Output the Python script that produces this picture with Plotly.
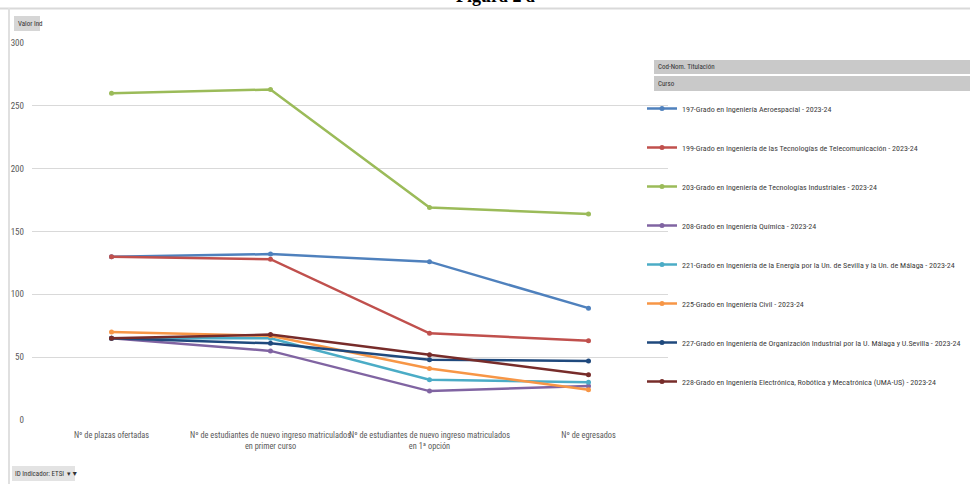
import plotly.graph_objects as go

categories = [
    "Nº de plazas ofertadas",
    "Nº de estudiantes de nuevo ingreso matriculados<br>en primer curso",
    "Nº de estudiantes de nuevo ingreso matriculados<br>en 1ª opción",
    "Nº de egresados",
]
series_names = [
    "197-Grado en Ingeniería Aeroespacial - 2023-24",
    "199-Grado en Ingeniería de las Tecnologías de Telecomunicación - 2023-24",
    "203-Grado en Ingeniería de Tecnologías Industriales - 2023-24",
    "208-Grado en Ingeniería Química - 2023-24",
    "221-Grado en Ingeniería de la Energía por la Un. de Sevilla y la Un. de Málaga - 2023-24",
    "225-Grado en Ingeniería Civil - 2023-24",
    "227-Grado en Ingeniería de Organización Industrial por la U. Málaga y U.Sevilla - 2023-24",
    "228-Grado en Ingeniería Electrónica, Robótica y Mecatrónica (UMA-US) - 2023-24",
]
aero = [130, 132, 126, 89]
teleco = [130, 128, 69, 63]
industriales = [260, 263, 169, 164]
quimica = [65, 55, 23, 27]
energia = [65, 65, 32, 30]
civil = [70, 67, 41, 24]
organizacion = [65, 61, 48, 47]
electronica = [65, 68, 52, 36]
series_values = [aero, teleco, industriales, quimica, energia, civil, organizacion, electronica]
colors = ["#4F81BD", "#C0504D", "#9BBB59", "#8064A2", "#4BACC6", "#F79646", "#1F497D", "#772C2A"]
y_ticks = [0, 50, 100, 150, 200, 250, 300]

FONT = "Roboto Condensed, Liberation Sans Narrow, sans-serif"

fig = go.Figure()
for i, (name, vals, col) in enumerate(zip(series_names, series_values, colors)):
    fig.add_trace(go.Scatter(
        x=list(range(len(categories))), y=vals, name=name, mode="lines+markers",
        line=dict(color=col, width=2.5), marker=dict(color=col, size=5, symbol="circle"),
        legendgroup=f"g{i}",
    ))

W, H = 970, 484
L, R, T, B = 32, 302, 43, 64
pw, ph = W - L - R, H - T - B

def px(xr):
    return (xr - L) / pw

def py(yr):
    return 1 - (yr - T) / ph

fig.update_layout(
    width=W, height=H,
    margin=dict(l=L, r=R, t=T, b=B, autoexpand=False),
    paper_bgcolor="white", plot_bgcolor="white",
    font=dict(family=FONT, size=9, color="#595959"),
    showlegend=True,
    legend=dict(
        x=px(642), y=py(94), xanchor="left", yanchor="top",
        font=dict(family=FONT, size=8, color="#404040"),
        tracegroupgap=20, itemwidth=30, bgcolor="rgba(0,0,0,0)",
    ),
    xaxis=dict(
        tickmode="array", tickvals=list(range(len(categories))), ticktext=categories,
        range=[-0.5, 3.5], showgrid=False, zeroline=False, showline=False, tickangle=0,
        tickfont=dict(family=FONT, size=8.3, color="#595959"), ticks="", ticklabelstandoff=9,
    ),
    yaxis=dict(
        range=[0, 300], tickvals=y_ticks, showgrid=True, gridcolor="#D9D9D9", gridwidth=1,
        zeroline=False, showline=False, ticks="", ticklabelstandoff=7,
        tickfont=dict(family=FONT, size=9, color="#595959"),
    ),
)

shapes = []
# chart frame lines
shapes.append(dict(type="line", xref="paper", yref="paper", x0=px(0), x1=px(980), y0=py(8.5), y1=py(8.5),
                   line=dict(color="#D9D9D9", width=2), layer="below"))
shapes.append(dict(type="line", xref="paper", yref="paper", x0=px(9), x1=px(9), y0=py(8), y1=py(490),
                   line=dict(color="#E0E0E0", width=2), layer="below"))
# buttons
shapes.append(dict(type="rect", xref="paper", yref="paper", x0=px(14), x1=px(40), y0=py(16), y1=py(31),
                   fillcolor="#D6D6D6", line=dict(width=0)))
shapes.append(dict(type="rect", xref="paper", yref="paper", x0=px(654), x1=px(972), y0=py(60), y1=py(74),
                   fillcolor="#C9C9C9", line=dict(width=0)))
shapes.append(dict(type="rect", xref="paper", yref="paper", x0=px(654), x1=px(972), y0=py(76), y1=py(91),
                   fillcolor="#C9C9C9", line=dict(width=0)))
shapes.append(dict(type="rect", xref="paper", yref="paper", x0=px(12), x1=px(75), y0=py(466), y1=py(481),
                   fillcolor="#E3E3E3", line=dict(width=0)))
fig.update_layout(shapes=shapes)

small = dict(family=FONT, size=7, color="#333333")
anns = [
    dict(text="<b>Figura 2 a</b>", x=px(496), y=py(8), xref="paper", yref="paper", showarrow=False,
         xanchor="center", yanchor="bottom", font=dict(family="Liberation Serif, Times New Roman, serif", size=18, color="black")),
    dict(text="Valor Ind", x=px(16), y=py(23.5), xref="paper", yref="paper", showarrow=False,
         xanchor="left", yanchor="middle", font=small),
    dict(text="Cod-Nom. Titulación", x=px(656), y=py(67), xref="paper", yref="paper", showarrow=False,
         xanchor="left", yanchor="middle", font=small),
    dict(text="Curso", x=px(656), y=py(83.5), xref="paper", yref="paper", showarrow=False,
         xanchor="left", yanchor="middle", font=small),
    dict(text="ID Indicador: ETSI  ▾▼", x=px(13), y=py(473.5), xref="paper", yref="paper", showarrow=False,
         xanchor="left", yanchor="middle", font=small),
]
fig.update_layout(annotations=anns)

fig.write_html("out.html", config={"displayModeBar": False},
               post_script="document.body.style.margin='0';")
